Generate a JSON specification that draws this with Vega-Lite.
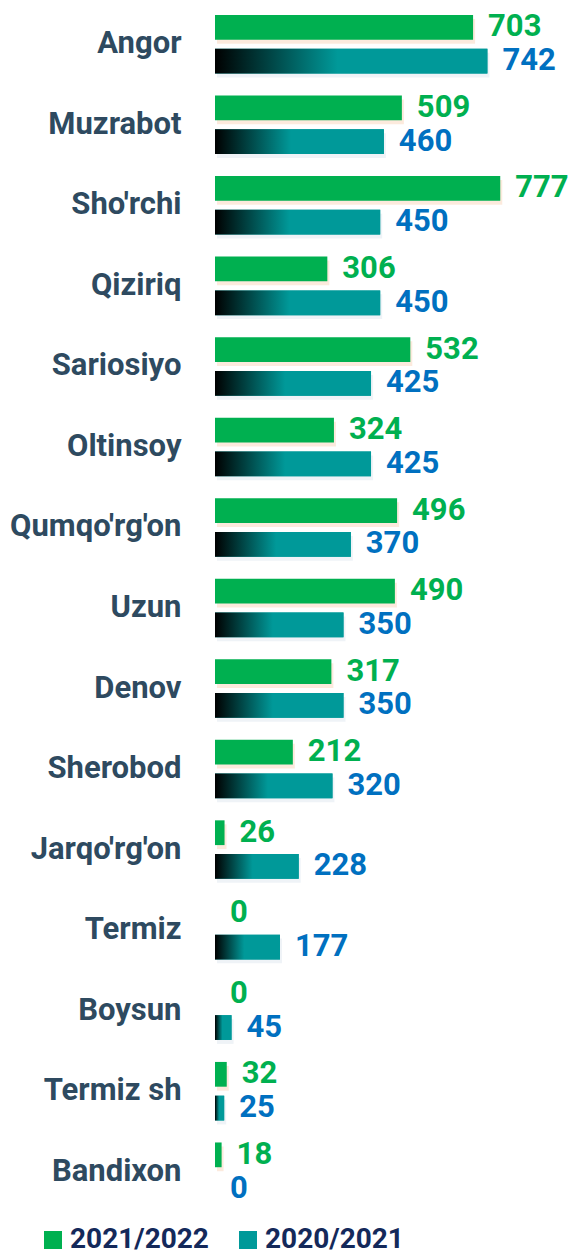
{
  "$schema": "https://vega.github.io/schema/vega-lite/v6.json",
  "autosize": "none",
  "padding": {"left": 215, "top": 4, "right": 0, "bottom": 42},
  "width": 355,
  "height": 1208,
  "background": "white",
  "config": {"view": {"stroke": null}, "font": "Roboto"},
  "data": {"values": [
    {"region": "Angor", "season": "2021/2022", "value": 703},
    {"region": "Angor", "season": "2020/2021", "value": 742},
    {"region": "Muzrabot", "season": "2021/2022", "value": 509},
    {"region": "Muzrabot", "season": "2020/2021", "value": 460},
    {"region": "Sho'rchi", "season": "2021/2022", "value": 777},
    {"region": "Sho'rchi", "season": "2020/2021", "value": 450},
    {"region": "Qiziriq", "season": "2021/2022", "value": 306},
    {"region": "Qiziriq", "season": "2020/2021", "value": 450},
    {"region": "Sariosiyo", "season": "2021/2022", "value": 532},
    {"region": "Sariosiyo", "season": "2020/2021", "value": 425},
    {"region": "Oltinsoy", "season": "2021/2022", "value": 324},
    {"region": "Oltinsoy", "season": "2020/2021", "value": 425},
    {"region": "Qumqo'rg'on", "season": "2021/2022", "value": 496},
    {"region": "Qumqo'rg'on", "season": "2020/2021", "value": 370},
    {"region": "Uzun", "season": "2021/2022", "value": 490},
    {"region": "Uzun", "season": "2020/2021", "value": 350},
    {"region": "Denov", "season": "2021/2022", "value": 317},
    {"region": "Denov", "season": "2020/2021", "value": 350},
    {"region": "Sherobod", "season": "2021/2022", "value": 212},
    {"region": "Sherobod", "season": "2020/2021", "value": 320},
    {"region": "Jarqo'rg'on", "season": "2021/2022", "value": 26},
    {"region": "Jarqo'rg'on", "season": "2020/2021", "value": 228},
    {"region": "Termiz", "season": "2021/2022", "value": 0},
    {"region": "Termiz", "season": "2020/2021", "value": 177},
    {"region": "Boysun", "season": "2021/2022", "value": 0},
    {"region": "Boysun", "season": "2020/2021", "value": 45},
    {"region": "Termiz sh", "season": "2021/2022", "value": 32},
    {"region": "Termiz sh", "season": "2020/2021", "value": 25},
    {"region": "Bandixon", "season": "2021/2022", "value": 18},
    {"region": "Bandixon", "season": "2020/2021", "value": 0}
  ]},
  "encoding": {
    "y": {
      "field": "region", "type": "nominal", "sort": null,
      "scale": {"paddingInner": 0.2732, "paddingOuter": 0.1366},
      "axis": {"title": null, "domain": false, "ticks": false, "labelPadding": 34,
               "labelFont": "Roboto", "labelFontWeight": "bold", "labelFontSize": 31,
               "labelColor": "#2e4a60", "labelLimit": 300}
    },
    "x": {
      "field": "value", "type": "quantitative",
      "scale": {"domain": [0, 967], "nice": false},
      "axis": null
    }
  },
  "layer": [
    {
      "mark": {"type": "bar", "xOffset": 2, "opacity": 0.3},
      "encoding": {
        "yOffset": {
          "field": "season", "type": "nominal",
          "sort": ["2021/2022", "2020/2021"],
          "scale": {"paddingInner": 0.267, "paddingOuter": 0, "range": [4, 62.5]}
        },
        "color": {"condition": {"test": "datum.season === '2021/2022'", "value": "#f5b98d"}, "value": "#c9d6e6"}
      }
    },
    {
      "layer": [
        {
          "mark": {"type": "bar"},
          "encoding": {
            "color": {
              "field": "season", "type": "nominal",
              "scale": {"domain": ["2021/2022", "2020/2021"], "range": ["#00b050", "#009999"]},
              "legend": {
                "title": null, "orient": "none", "direction": "horizontal",
                "legendX": -176, "legendY": 1222, "padding": 0,
                "symbolType": "square", "symbolSize": 324, "symbolStrokeWidth": 0,
                "labelFont": "Roboto", "labelFontWeight": "bold", "labelFontSize": 28,
                "labelColor": "#14295a", "labelOffset": 3, "columnPadding": 25,
                "encode": {
                  "symbols": {
                    "update": {
                      "fill": {"signal": "datum.value === '2020/2021' ? {gradient: 'linear', x1: 0, y1: 0, x2: 1, y2: 0, stops: [{offset: 0, color: '#000000'}, {offset: 0.45, color: '#009999'}, {offset: 1, color: '#009999'}]} : '#00b050'"}
                    }
                  }
                }
              }
            }
          }
        },
        {
          "transform": [{"filter": "datum.season === '2020/2021'"}],
          "mark": {"type": "bar",
                   "color": {"gradient": "linear", "x1": 0, "y1": 0, "x2": 1, "y2": 0,
                             "stops": [{"offset": 0, "color": "#000000"}, {"offset": 0.45, "color": "#009999"}, {"offset": 1, "color": "#009999"}]}}
        },
        {
          "mark": {"type": "text", "align": "left", "baseline": "middle", "dx": 15, "font": "Roboto", "fontWeight": "bold", "fontSize": 31},
          "encoding": {
            "text": {"field": "value", "type": "quantitative"},
            "color": {"condition": {"test": "datum.season === '2021/2022'", "value": "#00b050"}, "value": "#0070c0"}
          }
        }
      ],
      "encoding": {
        "yOffset": {
          "field": "season", "type": "nominal",
          "sort": ["2021/2022", "2020/2021"],
          "scale": {"paddingInner": 0.267, "paddingOuter": 0}
        }
      }
    }
  ],
  "resolve": {"scale": {"yOffset": "independent"}}
}
